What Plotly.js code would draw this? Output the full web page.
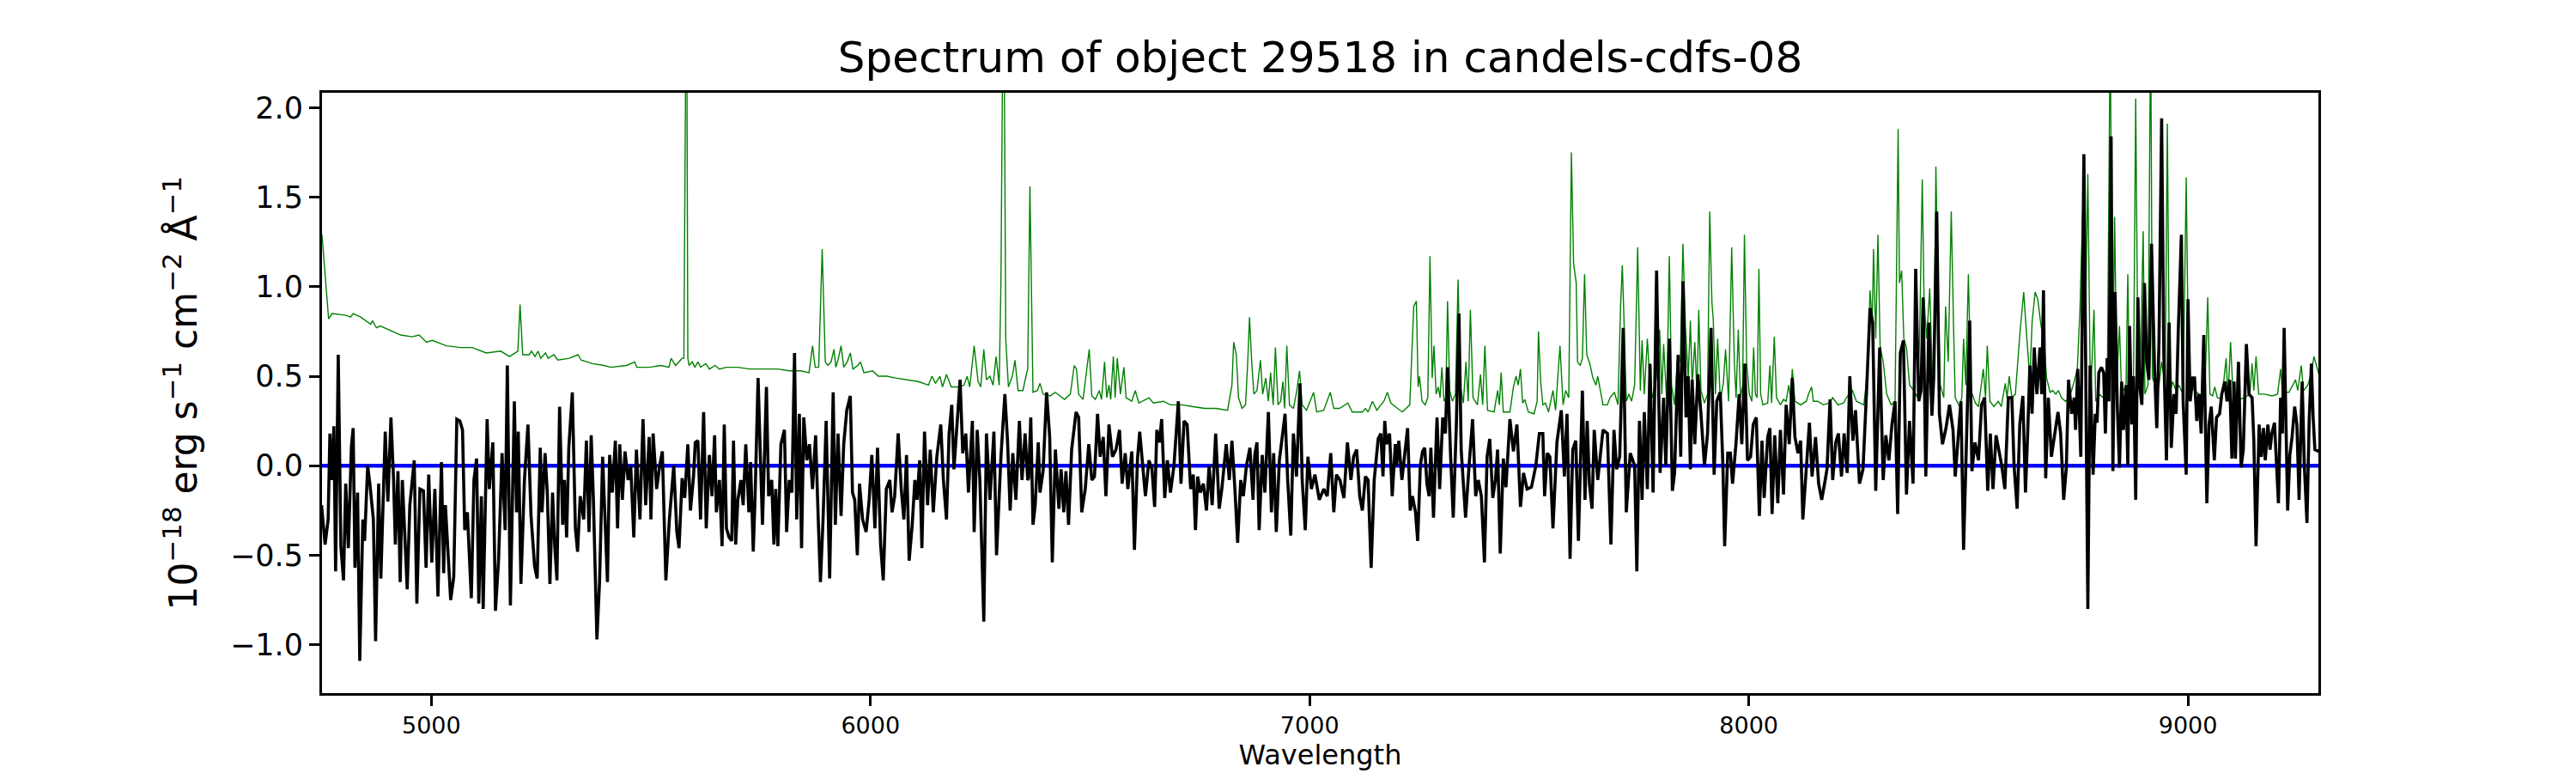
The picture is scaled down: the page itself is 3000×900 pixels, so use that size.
<!DOCTYPE html>
<html>
<head>
<meta charset="utf-8">
<script src="https://cdn.plot.ly/plotly-3.0.1.min.js"></script>
<style>
  html, body { margin: 0; padding: 0; background: #fff; }
  #plot { width: 3000px; height: 900px; }
</style>
</head>
<body>
<div id="plot"></div>
<script>
// science spectrum (black)
var sciWave = [
  4750,4758,4765,4769,4774,4778,4782,4788,4794,4800,
  4805,4811,4818,4822,4826,4832,4837,4844,4848,4855,
  4860,4868,4873,4880,4885,4895,4901,4908,4914,4918,
  4924,4929,4934,4940,4945,4951,4961,4967,4974,4982,
  4988,4994,5001,5008,5015,5023,5028,5032,5044,5051,
  5058,5065,5071,5076,5082,5091,5097,5103,5108,5114,
  5118,5127,5132,5140,5146,5153,5161,5168,5173,5180,
  5189,5194,5198,5204,5212,5220,5227,5235,5241,5248,
  5252,5259,5264,5270,5276,5281,5286,5292,5299,5303,
  5308,5313,5321,5328,5333,5339,5347,5353,5359,5364,
  5369,5377,5383,5390,5401,5406,5412,5419,5424,5429,
  5435,5441,5448,5454,5461,5467,5475,5482,5488,5496,
  5500,5505,5513,5520,5526,5534,5542,5552,5559,
  5564,5571,5577,5584,5590,5597,5601,5607,5613,5620,
  5626,5633,5639,5645,5649,5656,5662,5667,5672,5678,
  5684,5688,5693,5698,5705,5710,5716,5723,5727,5733,
  5737,5744,5749,5754,5763,5768,5775,5780,5784,5789,
  5796,5804,5809,5815,5821,5827,5832,5838,5843,5848,
  5855,5861,5868,5875,5881,5886,5892,5899,5907,5915,
  5920,5926,5933,5939,5946,5954,5959,5964,5970,5975,
  5982,5990,5997,6003,6010,6016,6023,6029,6036,6044,
  6049,6055,6063,6070,6076,6082,6088,6095,6101,6106,
  6112,6117,6123,6130,6136,6143,6151,6160,6166,6173,
  6179,6185,6190,6197,6204,6210,6217,6223,6232,6236,
  6243,6249,6258,6264,6272,6281,6287,6297,6306,6312,
  6318,6324,6331,6339,6345,6352,6358,
  6360,6365,6370,6375,6382,6386,6393,6401,6408,6414,
  6421,6429,6434,6440,6445,6451,6458,6468,6474,6481,
  6489,6497,6504,6510,6517,6523,6530,6536,6543,6551,
  6559,6567,6573,6580,6586,6595,6601,6608,6613,6618,
  6626,6634,6641,6647,6652,6658,6663,6670,6676,6683,
  6691,6696,6701,6707,6714,6721,6729,6735,6740,6745,
  6751,6758,6765,6771,6778,6786,6794,6800,6810,6817,
  6823,6830,6836,6843,6849,6856,6864,6871,6875,6880,
  6885,6892,6898,6906,6913,6918,6924,6931,6937,6944,
  6950,6957,6963,6970,6978,6983,6990,6996,7004,7012,
  7022,7032,7040,7048,7055,7061,7069,7078,7086,7094,
  7100,7107,7114,7120,7127,7133,7140,7147,7156,7162,
  7167,7171,7175,7182,7188,7195,7198,7203,7210,7216,
  7223,7229,7234,7241,7246,7252,7257,7262,7267,7272,
  7276,7282,7290,7296,7303,7309,7314,7321,7327,7334,
  7340,7345,7355,7363,7371,7378,7384,7391,7398,7404,
  7410,7417,7423,7428,7434,7441,7447,7456,7464,7472,
  7480,7487,7495,7505,7515,7523,7531,7535,7541,7547,
  7554,7563,7573,7580,7586,7593,7599,7606,7612,7621,
  7627,7632,7637,7643,7648,7656,7668,7678,7686,7693,
  7699,7706,7714,7721,7730,7740,7745,7751,7757,7762,
  7769,7775,7782,7790,7798,7806,7811,7819,7826,7831,
  7839,7845,7850,7857,7862,7867,7871,7877,7884,7891,
  7899,7906,7914,7921,7927,7935,7941,7945,7952,7958,7963,
  7971,7978,7984,7991,7997,8004,8010,8017,8024,8030,
  8035,8043,8048,8053,8059,8066,8072,8079,8085,8092,
  8099,8105,8112,8118,8123,8130,8138,8144,8152,8159,
  8166,8174,8178,8185,8191,8198,8204,8211,8217,8224,
  8230,8237,8243,8252,8260,8268,8276,8282,8289,8298,
  8306,8312,8319,8326,8333,8339,8345,8352,8359,8366,
  8374,8380,8387,8392,8397,8403,8410,8417,8421,8428,
  8434,8441,8449,8457,8465,8470,8477,8483,8489,8495,
  8503,8508,8515,8523,8530,8537,8544,8550,8556,8563,
  8569,8576,8583,8591,8599,8604,8611,8617,8624,8630,
  8635,8640,8645,8650,8656,8663,8667,8671,8676,8682,
  8689,8695,8704,8710,8717,8723,8728,8735,8741,8744,8749,8756,
  8763,8767,8772,8777,8784,8789,8793,8797,8803,8808,
  8812,8816,8820,8825,8829,8834,8839,8844,8849,8853,
  8859,8863,8867,8872,8876,8881,8886,8890,8895,8901,
  8906,8911,8917,8924,8929,8934,8940,8945,8951,8957,
  8962,8968,8973,8978,8985,8989,8996,9000,9005,9011,
  9015,9020,9025,9030,9036,9043,9048,9053,9060,9065,
  9072,9077,9084,9089,9095,9100,9105,9108,9115,9121,
  9126,9133,9139,9146,9150,9155,9162,9167,9172,9176,
  9182,9187,9191,9197,9201,9206,9211,9215,9219,9223,
  9227,9232,9237,9243,9248,9253,9260,9265,9271,9276,
  9281,9285,9289,9298
];
var sciFlux = [
  -0.22,-0.44,-0.3,0.18,-0.08,0.22,-0.59,0.62,-0.45,-0.64,
  -0.1,-0.46,0.11,0.21,-0.57,-0.15,-1.09,-0.3,-0.42,0,
  -0.1,-0.3,-0.98,-0.1,-0.63,0.19,-0.2,0.27,-0.08,-0.44,
  -0.03,-0.65,-0.08,-0.45,-0.69,-0.22,0.03,-0.77,-0.13,-0.14,
  -0.57,-0.05,-0.54,-0.13,-0.73,0.02,-0.6,-0.22,-0.75,-0.62,
  0.26,0.25,0.2,-0.36,-0.26,-0.74,-0.08,0.04,-0.77,-0.17,
  -0.8,0.26,-0.13,0.13,-0.81,-0.53,0.07,-0.36,0.56,-0.78,
  0.36,-0.26,0.19,-0.66,-0.08,0.23,-0.28,-0.56,-0.63,0.1,
  -0.26,0.07,-0.15,-0.66,-0.15,-0.45,-0.64,0.33,-0.33,-0.08,
  -0.4,0.1,0.41,-0.35,-0.48,-0.17,-0.3,0.14,-0.37,0.17,
  -0.19,-0.97,-0.65,0.05,-0.65,0.06,-0.15,0.14,-0.35,0.12,
  -0.19,0.08,-0.08,0,-0.4,0.09,-0.3,0.26,-0.22,0.16,
  -0.3,0.18,-0.13,0,0.08,-0.64,-0.3,0,-0.37,
  -0.46,-0.07,-0.18,0.12,-0.25,-0.06,0.13,0.14,-0.3,0.3,
  -0.35,0.06,-0.17,0.17,-0.26,-0.08,-0.45,0.23,-0.35,-0.4,
  -0.42,0.14,-0.44,-0.19,-0.08,-0.22,0.12,-0.26,0.02,-0.48,
  -0.19,0.49,0.07,-0.33,0.44,-0.17,-0.08,-0.44,-0.13,-0.45,
  0.12,0.2,-0.37,-0.08,-0.15,0.63,-0.3,0.29,-0.46,0.27,
  0.03,0.12,-0.13,0.17,-0.3,-0.65,-0.3,0.25,-0.63,0.41,
  -0.33,0.18,-0.28,0.12,0.31,0.39,-0.15,-0.19,-0.5,-0.1,
  -0.3,-0.37,-0.19,0.06,-0.35,0.1,-0.44,-0.64,-0.13,-0.08,
  -0.26,-0.17,0.18,-0.13,-0.3,0.06,-0.53,-0.33,-0.08,-0.19,
  0.03,-0.46,0.19,-0.22,0.09,-0.26,0.05,0.23,-0.08,-0.3,
  0.18,0.34,-0.02,0.25,0.48,0.07,0.18,-0.15,0.25,-0.37,
  0.2,-0.08,-0.87,0.18,-0.19,0.19,-0.5,0.05,0.4,0.14,
  -0.25,0.07,-0.19,0.25,-0.08,0.18,-0.08,
  -0.07,0.27,-0.33,-0.22,0.13,-0.15,-0.03,0.41,0.16,-0.54,
  0.09,-0.24,-0.02,-0.26,-0.03,-0.33,0.09,0.3,0.27,-0.26,
  -0.13,0.12,-0.08,-0.06,0.29,0.05,0.16,-0.17,0.23,0.05,
  0.09,0.2,-0.1,0.07,-0.13,0.08,-0.47,0.04,0.19,0.05,
  -0.17,0.03,-0.02,-0.23,0.2,0.13,0.26,-0.18,0.03,-0.15,
  0,0.18,0.36,-0.1,0.25,0.23,-0.13,-0.05,-0.36,-0.06,
  -0.15,-0.1,-0.25,0,-0.22,0.18,-0.24,-0.13,0.12,-0.08,
  0.14,-0.14,-0.43,-0.08,-0.17,0,0.1,-0.19,0.06,0.13,
  -0.36,0.06,-0.15,0.3,-0.26,0.07,-0.37,0.03,0.14,0.29,
  -0.08,-0.39,0.18,-0.06,0.46,-0.08,-0.36,0.05,-0.13,-0.05,
  -0.19,-0.13,-0.17,0.07,-0.26,-0.05,-0.08,-0.18,0.13,-0.08,
  0.05,0.09,-0.17,-0.25,-0.06,-0.08,-0.57,-0.08,0.15,0.18,
  -0.06,0.25,0.12,0.18,-0.17,0.12,0,0.14,-0.08,0.05,
  0.21,-0.25,-0.17,-0.26,-0.42,0,0.08,0.1,-0.1,-0.17,
  0.1,-0.29,0.27,-0.13,0.27,0.18,0.55,0.05,-0.29,0.23,
  0.85,0.09,-0.29,0,0.26,-0.17,-0.08,-0.17,-0.54,0.05,
  0.15,-0.18,-0.08,0.09,-0.49,0.04,-0.12,0.26,0.08,0.23,
  -0.23,-0.04,-0.13,-0.12,0,0.18,0.18,-0.17,0.07,0.05,
  -0.35,0.13,0.31,-0.06,0.29,-0.52,0.09,0.14,-0.42,0.42,
  -0.19,0.25,-0.1,-0.24,0.2,-0.08,0.2,0.18,-0.44,0.2,
  -0.02,0.05,0.77,-0.26,0.07,0,-0.59,0.25,-0.19,0.3,
  -0.13,0.57,-0.15,1.09,-0.04,0.38,0,0.71,-0.14,-0.04,
  0.62,0.05,1.03,0.27,0.5,-0.02,0.48,0.12,0.51,0.29,
  0,0.18,0.77,-0.05,0.36,0.41,0,-0.45,0.07,0.07,-0.1,
  0.13,0.4,0.12,0.57,0.03,0.05,0.23,0.27,-0.28,0.14,
  -0.18,0.16,0.21,-0.27,0.17,-0.21,0.2,-0.16,0.34,0.12,
  0.49,0.16,0.07,0.14,-0.3,-0.06,0.24,-0.06,0.16,-0.1,
  -0.19,-0.08,-0.02,0.37,-0.08,0.13,0.18,-0.06,0.18,-0.04,
  0.5,0.14,0.31,-0.1,-0.02,0.41,0.88,0.8,-0.14,0.66,
  -0.08,0.17,0.03,0.23,0.36,-0.27,0.63,0.7,-0.16,0.25,
  -0.1,1.1,0.36,0.42,0.94,-0.06,0.8,0.28,0.49,1.42,
  0.29,0.12,0.21,0.34,0.2,-0.06,0.14,0.36,-0.47,0.14,
  0.81,-0.03,0.13,0.03,0.34,0.38,-0.14,0.18,-0.13,0.17,
  0.09,0,-0.13,0.38,0.38,0,-0.24,0.23,0.39,-0.15,
  0.18,0.56,0.29,0.66,0.4,0.66,0.4,0.98,-0.07,0.38,
  0.05,0.14,0.3,0.18,-0.19,-0.01,0.48,0.29,0.38,0.2,0.54,0.05,
  1.74,0.58,-0.8,0.56,-0.05,0.29,0.24,0.52,0.55,0.52,
  0.18,0.6,0.36,1.84,-0.03,0.97,0.34,-0.01,0.47,0.2,
  0.45,0,0.78,0.23,0.5,-0.19,0.94,0.45,0.34,1.02,
  0.58,0.48,1.24,0.53,0.21,0.69,1.94,0.62,0.03,0.8,
  0.1,0.4,0.29,0.76,1.29,0.36,-0.05,0.93,0.36,0.49,
  0.49,0.25,0.4,0.18,0.73,-0.21,0.23,0.33,0.03,0.27,
  0.29,0.4,0.47,0.36,0.48,0.04,0.47,0.04,0.58,-0.01,
  0.09,0.68,0.4,0.38,0.14,-0.45,0.23,0.05,0.21,0.03,
  0.23,0.09,0.18,0.24,0.07,-0.21,0.38,0.18,0.77,0.25,
  -0.25,0.06,0.16,0.33,0.23,-0.19,0.47,0,-0.32,0.25,
  0.57,0.27,0.09,0.08
];

// sky / noise spectrum (green)
var skyWave = [
  4751,4766,4774,4806,4816,4822,4839,4862,4866,4875,
  4884,4910,4930,4956,4972,4989,5002,5034,5067,5093,
  5125,5158,5178,5191,5197,5202,5208,5223,5228,5236,
  5243,5249,5260,5266,5279,5288,5314,5334,5341,5367,
  5393,5409,5445,5463,5468,5497,5523,5541,5546,5556,
  5564,5571,5575,5577,5581,5584,5587,5594,5600,5607,
  5613,5625,5633,5646,5656,5672,5698,5724,5750,5770,
  5789,5815,5841,5860,5868,5874,5882,5890,5894,5897,
  5903,5910,5917,5921,5926,5933,5939,5947,5954,5960,
  5971,5977,5985,6005,6018,6037,6057,6083,6109,6132,
  6140,6148,6158,6164,6173,6184,6200,6213,6220,6226,
  6236,6245,6251,6258,6264,6272,6279,6286,6293,6297,
  6300,6303,6308,6314,6323,6329,6336,6347,6354,
  6358,6363,6367,6370,6380,6386,6393,6409,6421,6442,
  6455,6464,6469,6474,6484,6498,6504,6512,6521,6526,
  6533,6538,6543,6547,6553,6557,6562,6569,6577,6582,
  6595,6603,6611,6634,6644,6667,6683,6709,6735,6761,
  6787,6813,6823,6827,6833,6838,6846,6854,6859,6863,
  6868,6873,6880,6888,6893,6900,6906,6911,6917,6922,
  6928,6934,6939,6943,6948,6954,6963,6970,6977,6983,
  6993,7003,7009,7016,7032,7047,7055,7068,7087,7097,
  7120,7127,7133,7143,7153,7162,
  7169,7177,7185,7195,7211,7228,7237,7243,7247,7250,
  7256,7263,7269,7274,7279,7283,7288,7293,7297,7301,
  7306,7310,7314,7319,7325,7332,7338,7343,7350,7356,
  7361,7366,7372,7382,7389,7394,7399,7405,7420,7428,
  7432,7436,7441,7456,7464,7470,7475,7480,7485,7490,
  7498,7511,7518,7521,7526,7531,7537,7544,7554,7560,
  7570,7577,7583,7590,7596,7601,7607,7610,7616,7621,
  7626,7631,7638,7645,7652,7656,7661,7668,7678,7684,
  7694,7702,7708,7712,7717,7721,7727,7733,7740,7747,
  7753,7757,7762,7769,7774,7780,7789,7797,7802,7806,
  7813,7819,7824,7831,7837,7844,7850,7856,7862,7867,
  7871,7877,7882,7886,7891,7899,7906,7911,7916,7919,
  7924,7929,7935,7942,7947,7954,7961,7967,
  7971,7976,7981,7986,7990,7995,8001,8007,8011,8015,
  8019,8023,8027,8032,8043,8048,8052,8058,8063,8072,
  8079,8085,8091,8095,8099,8105,8118,8131,8136,8143,
  8147,8157,8170,8183,8191,8203,8216,8222,8236,8245,
  8262,8271,8276,8281,8284,8289,8294,8299,8306,8314,
  8324,8333,8340,8343,8348,8353,8359,8366,8376,8384,
  8389,8395,8399,8405,8412,8417,8421,8426,8431,8436,
  8444,8448,8454,8461,8466,8470,8480,8485,8489,8494,
  8500,8506,8516,8523,8534,8539,8543,8549,8558,8568,
  8575,8584,8588,8593,8599,8607,8617,8626,8632,8640,
  8645,8652,8658,8665,8673,8678,8686,8692,8699,8705,
  8712,8721,8730,8741,8748,8754,8760,8765,8772,8778,
  8786,8790,8798,8816,8823,8828,8833,8838,8844,8849,
  8859,8863,8867,8872,8876,8881,8886,8891,8898,8902,
  8909,8915,8919,8926,8934,8940,8948,8953,8958,8965,
  8973,8979,8989,8996,9001,9007,9015,9025,9038,9045,
  9050,9056,9061,9067,9077,9087,9091,9097,9103,9116,
  9129,9141,9146,9150,9155,9161,9175,9191,9204,9211,
  9215,9230,9245,9250,9258,9263,9273,9281,9287,9294,9298
];
var skyFlux = [
  1.29,0.82,0.85,0.84,0.83,0.85,0.83,0.79,0.81,0.77,
  0.78,0.75,0.73,0.72,0.73,0.69,0.7,0.67,0.66,0.66,
  0.63,0.64,0.61,0.63,0.64,0.9,0.62,0.62,0.64,0.61,
  0.64,0.6,0.63,0.6,0.62,0.59,0.6,0.62,0.59,0.57,
  0.56,0.55,0.56,0.58,0.55,0.55,0.56,0.55,0.6,0.56,
  0.58,0.6,0.6,3.0,3.0,0.6,0.56,0.58,0.55,0.58,
  0.55,0.57,0.54,0.56,0.54,0.55,0.55,0.54,0.54,0.54,
  0.54,0.53,0.53,0.52,0.67,0.55,0.55,1.21,0.89,0.58,
  0.56,0.58,0.65,0.55,0.59,0.67,0.55,0.58,0.63,0.54,
  0.56,0.58,0.52,0.53,0.5,0.5,0.49,0.48,0.47,0.45,
  0.5,0.46,0.5,0.44,0.51,0.44,0.44,0.45,0.5,0.44,
  0.67,0.47,0.44,0.65,0.48,0.5,0.45,0.61,0.45,1.02,
  3.0,3.0,0.71,0.44,0.5,0.59,0.42,0.42,0.5,
  0.54,1.56,0.8,0.41,0.42,0.46,0.4,0.39,0.41,0.37,
  0.4,0.56,0.54,0.4,0.37,0.65,0.39,0.37,0.42,0.37,
  0.58,0.38,0.45,0.37,0.61,0.38,0.6,0.4,0.55,0.38,
  0.36,0.42,0.35,0.38,0.35,0.36,0.34,0.34,0.33,0.32,
  0.32,0.31,0.45,0.69,0.62,0.38,0.32,0.34,0.58,0.83,
  0.58,0.4,0.42,0.59,0.4,0.49,0.36,0.52,0.34,0.66,
  0.34,0.36,0.47,0.32,0.67,0.34,0.32,0.41,0.53,0.34,
  0.31,0.37,0.41,0.3,0.31,0.41,0.32,0.32,0.35,0.3,
  0.3,0.32,0.3,0.36,0.31,0.34,
  0.36,0.41,0.35,0.33,0.3,0.34,0.89,0.92,0.44,0.5,
  0.36,0.34,0.38,1.17,0.49,0.67,0.4,0.44,0.38,0.55,
  0.36,0.38,0.92,0.42,0.36,0.4,1.04,0.45,0.35,0.58,
  0.36,0.87,0.38,0.34,0.51,0.34,0.67,0.31,0.3,0.42,
  0.34,0.52,0.3,0.3,0.44,0.5,0.45,0.54,0.35,0.37,
  0.3,0.29,0.36,0.75,0.47,0.34,0.35,0.3,0.42,0.31,
  0.67,0.34,0.42,0.38,1.75,1.13,1.02,0.58,0.56,0.6,
  1.07,0.62,0.57,0.49,0.45,0.5,0.44,0.34,0.34,0.38,
  0.41,0.34,0.89,1.12,0.71,0.36,0.4,0.36,0.45,1.22,
  0.42,0.7,0.4,0.71,0.49,0.38,0.48,0.76,0.4,0.68,
  0.36,1.17,0.45,0.34,0.58,0.58,1.24,0.76,0.49,0.81,
  0.45,0.69,0.4,0.87,0.42,0.35,0.4,1.42,0.91,0.82,
  0.4,0.71,0.37,0.46,0.65,0.36,1.22,0.58,
  0.38,0.76,0.38,0.45,1.29,0.58,0.4,0.36,0.66,0.4,
  0.38,1.1,0.4,0.34,0.35,0.56,0.35,0.72,0.38,0.34,
  0.37,0.36,0.45,0.38,0.54,0.36,0.34,0.36,0.4,0.44,
  0.36,0.36,0.34,0.35,0.38,0.34,0.35,0.38,0.42,0.36,
  0.34,0.54,0.98,0.8,1.21,0.71,1.29,0.67,0.58,0.4,
  0.34,0.36,1.88,1.02,1.09,0.71,0.66,0.45,0.42,0.38,
  0.73,1.6,0.93,0.71,0.99,0.58,0.47,1.67,0.93,0.45,
  0.38,0.89,0.58,1.42,0.8,0.38,0.33,0.38,0.71,0.45,
  1.07,0.42,0.35,0.33,0.54,0.38,0.67,0.36,0.33,0.36,
  0.33,0.46,0.38,0.5,0.38,0.4,0.73,0.97,0.75,0.48,
  0.8,0.97,0.93,0.79,0.67,0.49,0.41,0.42,0.4,0.42,
  0.38,0.36,0.38,0.47,0.54,0.87,1.4,0.6,1.63,0.36,
  0.87,0.36,0.4,0.36,2.5,0.36,1.39,0.47,0.78,0.4,
  0.45,1.07,0.42,0.4,0.47,2.05,0.58,0.49,1.31,0.4,
  0.45,2.5,0.49,0.45,0.45,0.58,0.45,1.91,0.4,0.47,
  0.42,0.45,0.4,1.61,0.58,0.45,0.42,0.4,0.38,0.94,
  0.4,0.39,0.44,0.38,0.37,0.6,0.38,0.69,0.38,0.37,
  0.38,0.4,0.57,0.42,0.61,0.4,0.4,0.39,0.4,0.54,
  0.41,0.41,0.48,0.42,0.56,0.42,0.45,0.52,0.61,0.54,0.51
];

// zero level (blue)
var zeroWave = [4750, 9300];
var zeroFlux = [0, 0];

var xTicks = [5000, 6000, 7000, 8000, 9000];
var yTicks = [-1.0, -0.5, 0.0, 0.5, 1.0, 1.5, 2.0];

var FONT = 'DejaVu Sans, Liberation Sans, sans-serif';

var traces = [
  { x: skyWave, y: skyFlux, type: 'scatter', mode: 'lines',
    line: { color: '#008000', width: 1.4 }, hoverinfo: 'skip' },
  { x: zeroWave, y: zeroFlux, type: 'scatter', mode: 'lines',
    line: { color: '#0000ff', width: 4.5 }, hoverinfo: 'skip' },
  { x: sciWave, y: sciFlux, type: 'scatter', mode: 'lines',
    line: { color: '#000000', width: 3.6 }, hoverinfo: 'skip' }
];

var layout = {
  width: 3000, height: 900,
  margin: { l: 375, r: 300, t: 108, b: 93 },
  paper_bgcolor: '#ffffff', plot_bgcolor: '#ffffff',
  showlegend: false,
  font: { family: FONT, color: '#000000' },
  title: {
    text: 'Spectrum of object 29518 in candels-cdfs-08',
    font: { family: FONT, size: 50, color: '#000000' },
    x: 0.5, xref: 'paper', xanchor: 'center',
    y: 1 - 66 / 900, yref: 'container', yanchor: 'middle'
  },
  xaxis: {
    range: [4751, 9297],
    tickvals: xTicks,
    ticktext: xTicks.map(String),
    ticks: 'outside', ticklen: 12, tickwidth: 3, tickcolor: '#000000',
    tickfont: { family: FONT, size: 27, color: '#000000' },
    showline: true, linewidth: 3, linecolor: '#000000', mirror: true,
    showgrid: false, zeroline: false,
    title: { text: 'Wavelength', font: { family: FONT, size: 32, color: '#000000' }, standoff: 4 }
  },
  yaxis: {
    range: [-1.27, 2.083],
    tickvals: yTicks,
    tickformat: '.1f',
    ticks: 'outside', ticklen: 12, tickwidth: 3, tickcolor: '#000000',
    tickfont: { family: FONT, size: 35, color: '#000000' },
    showline: true, linewidth: 3, linecolor: '#000000', mirror: true,
    showgrid: false, zeroline: false
  },
  annotations: [{
    text: '10<sup>\u221218</sup> erg s<sup>\u22121</sup> cm<sup>\u22122</sup> \u00c5<sup>\u22121</sup>',
    textangle: -90,
    xref: 'paper', yref: 'paper',
    x: (210 - 375) / 2325, y: 0.5,
    xanchor: 'center', yanchor: 'middle',
    showarrow: false,
    font: { family: FONT, size: 44, color: '#000000' }
  }]
};

Plotly.newPlot('plot', traces, layout, { staticPlot: true, displayModeBar: false });
</script>
</body>
</html>
